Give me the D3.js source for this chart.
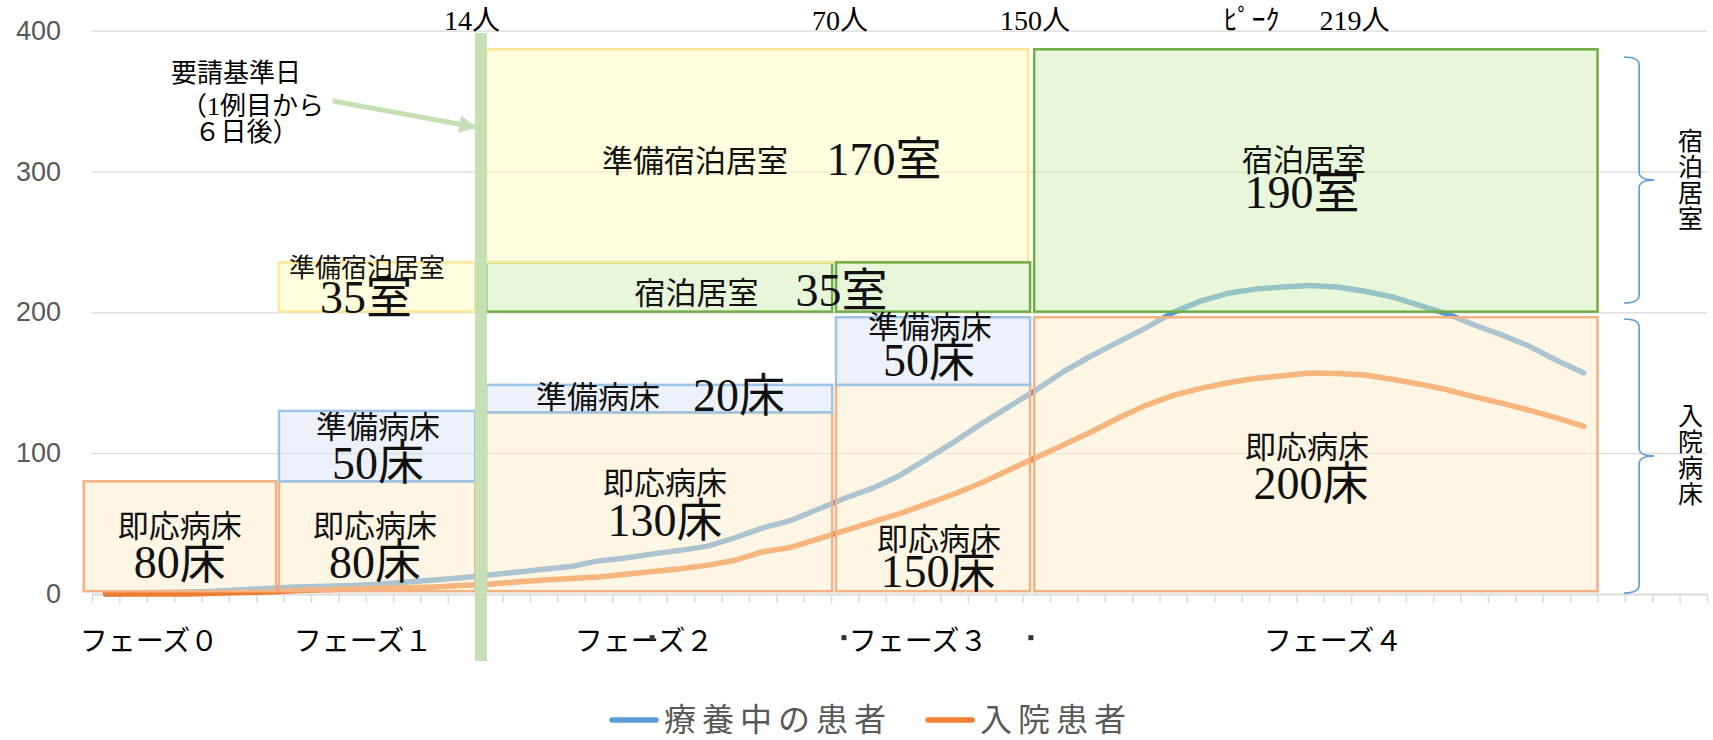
<!DOCTYPE html>
<html>
<head>
<meta charset="utf-8">
<script src="https://cdn.jsdelivr.net/npm/d3@7"></script>
<style>
body { margin: 0; background: #fff; }
svg { display: block; }
</style>
</head>
<body>
<div id="chart"></div>
<script>
let w = 1713, h = 740

// x axis: day slots, y axis: people / beds
let dayCount = 59
let yTicks = [0, 100, 200, 300, 400]

// 療養中の患者 (one value per day)
let ryoyo = [0, 0.5, 1, 1.5, 2, 3, 4, 5, 5.5, 6, 7, 8.5, 10, 11.5, 13.5, 15.5, 17.5, 19.5, 23.5, 25.5,
	28.5, 31, 34, 40, 47, 52, 60, 68, 75, 84, 96, 108, 121, 133, 145, 158, 169, 179, 189, 200,
	208, 213.5, 216.5, 218, 219, 218, 215, 211, 205, 199, 191, 184, 176, 166, 157]
// 入院患者
let nyuin = [0, 0, 0, 0, 0.5, 1, 1.5, 2.5, 3, 3.5, 4, 4.5, 5, 6, 7, 8.5, 10, 11, 12, 14,
	16, 18, 20.5, 24, 30, 33, 39, 45, 51, 57, 64, 71, 79, 88, 97, 106, 115, 125, 134, 141,
	146, 150, 153, 155, 157, 156.5, 155.5, 152.5, 149, 145, 140, 135.5, 130.5, 125, 119]

let seriesNames = ["療養中の患者", "入院患者"]
let seriesColors = ["#5B9BD5", "#ED7D31"]

// bed / room blocks per phase: day range and value range
let blockTypes = ["即応病床", "準備病床", "準備宿泊居室", "宿泊居室"]
let blocks = [
	{type: 0, d0: -0.3, d1: 6.72, lo: 2, hi: 80},
	{type: 0, d0: 6.83, d1: 14.0, lo: 2, hi: 80},
	{type: 1, d0: 6.83, d1: 14.0, lo: 80, hi: 130},
	{type: 2, d0: 6.83, d1: 14.0, lo: 200.5, hi: 235.5},
	{type: 0, d0: 14.4, d1: 27.04, lo: 2, hi: 129},
	{type: 1, d0: 14.4, d1: 27.04, lo: 129, hi: 148.5},
	{type: 3, d0: 14.4, d1: 27.04, lo: 200.5, hi: 235.5},
	{type: 2, d0: 14.4, d1: 34.2, lo: 235.5, hi: 386.8},
	{type: 0, d0: 27.18, d1: 34.27, lo: 2, hi: 148.5},
	{type: 1, d0: 27.18, d1: 34.27, lo: 148.5, hi: 196.5},
	{type: 3, d0: 27.18, d1: 34.27, lo: 200.5, hi: 235.5},
	{type: 0, d0: 34.42, d1: 55.0, lo: 2, hi: 196.5},
	{type: 3, d0: 34.42, d1: 55.0, lo: 200.5, hi: 386.8}
]

// texts inside the blocks (day, value of the text centre)
let blockTexts = [
	{t: "即応病床", d: 3.21, v: 47.6, k: "name"}, {t: "80床", d: 3.21, v: 22.7, k: "num"},
	{t: "即応病床", d: 10.34, v: 47.6, k: "name"}, {t: "80床", d: 10.34, v: 22.7, k: "num"},
	{t: "準備病床", d: 10.45, v: 117.9, k: "name"}, {t: "50床", d: 10.45, v: 93, k: "num"},
	{t: "準備宿泊居室", d: 10.05, v: 230.8, k: "small"}, {t: "35室", d: 10.01, v: 210.2, k: "num"},
	{t: "準備宿泊居室", d: 22.03, v: 306.8, k: "name"}, {t: "170室", d: 28.93, v: 308.2, k: "num"},
	{t: "宿泊居室", d: 22.08, v: 213.4, k: "name"}, {t: "35室", d: 27.38, v: 215.2, k: "num"},
	{t: "準備病床", d: 18.49, v: 139.5, k: "name"}, {t: "20床", d: 23.64, v: 141, k: "num"},
	{t: "即応病床", d: 20.93, v: 78.8, k: "name"}, {t: "130床", d: 20.93, v: 52.5, k: "num"},
	{t: "準備病床", d: 30.61, v: 189.5, k: "name"}, {t: "50床", d: 30.58, v: 165.7, k: "num"},
	{t: "即応病床", d: 30.94, v: 39, k: "name"}, {t: "150床", d: 30.91, v: 15.8, k: "num"},
	{t: "宿泊居室", d: 44.28, v: 307.5, k: "name"}, {t: "190室", d: 44.2, v: 285, k: "num"},
	{t: "即応病床", d: 44.39, v: 103.8, k: "name"}, {t: "200床", d: 44.53, v: 78.3, k: "num"}
]

// patient counts written above the chart
let topNotes = [
	{t: "14人", d: 13.88}, {t: "70人", d: 27.33}, {t: "150人", d: 34.45},
	{t: "ﾋﾟｰｸ", d: 42.36}, {t: "219人", d: 46.12}
]
let phaseNames = ["フェーズ０", "フェーズ１", "フェーズ２", "フェーズ３", "フェーズ４"]
let phaseCenters = [2.08, 9.9, 20.17, 30.18, 45.34]
let strayDots = [20.46, 27.47, 34.3]

let requestDay = 14.21
let requestNote = ["要請基準日", "（1例目から", "６日後）"]
let requestNoteDays = [5.26, 5.86, 5.64]
let requestNoteValues = [369.3, 346.5, 327.4]

let braceNames = ["宿泊居室", "入院病床"]
let braceRanges = [[381.3, 206.6], [195.3, 0.7]]

let margins = {left: 92, right: 1707, top: 30.7, bottom: 594}
let serif = "'Liberation Serif', 'Noto Sans CJK JP', serif"

let svg = d3.select("#chart").append("svg")
	.attr("width", w)
	.attr("height", h)

let x = d3.scaleLinear().domain([0, dayCount]).range([margins.left, margins.right])
let y = d3.scaleLinear().domain([0, 400]).range([margins.bottom, margins.top])

// gridlines + y labels
svg.append("g")
	.attr("transform", "translate(" + margins.left + ",0)")
	.call(d3.axisLeft(y).tickValues(yTicks).tickSize(-(margins.right - margins.left)).tickPadding(31))
	.call(g => g.select(".domain").remove())
	.call(g => g.selectAll("line").attr("stroke", "#D9D9D9").attr("stroke-width", 1.3))
	.call(g => g.selectAll("text").attr("fill", "#595959")
		.style("font-family", "'Liberation Sans', Arial, sans-serif").style("font-size", "27px"))

// x axis with a tick between every day
svg.append("g")
	.attr("transform", "translate(0," + margins.bottom + ")")
	.call(d3.axisBottom(x).tickValues(d3.range(0, dayCount + 1)).tickSize(9).tickSizeOuter(0).tickFormat(""))
	.call(g => g.selectAll("line, path").attr("stroke", "#D9D9D9").attr("stroke-width", 1.5))

// lines
let line = d3.line().x((d, i) => x(i + 0.5)).y(d => y(d))
;[ryoyo, nyuin].forEach((s, i) => {
	svg.append("path")
		.datum(s)
		.attr("d", line)
		.attr("fill", "none")
		.attr("stroke", seriesColors[i])
		.attr("stroke-width", 5.5)
		.attr("stroke-linejoin", "round")
		.attr("stroke-linecap", "round")
})

// blocks (half transparent, they wash out the lines below)
let blockFill = ["#FDEDC9", "#DBE5F5", "#FFFBBD", "#D1EDB5"]
let blockStroke = ["#F4B183", "#9DC3E6", "#FFE699", "#70AD47"]
svg.selectAll("rect.block")
	.data(blocks)
	.enter()
	.append("rect")
	.attr("class", "block")
	.attr("x", d => x(d.d0))
	.attr("y", d => y(d.hi))
	.attr("width", d => x(d.d1) - x(d.d0))
	.attr("height", d => y(d.lo) - y(d.hi))
	.attr("fill", d => blockFill[d.type])
	.attr("fill-opacity", 0.5)
	.attr("stroke", d => blockStroke[d.type])
	.attr("stroke-width", 2.5)

let textSize = {name: 31, small: 26, num: 46}
svg.selectAll("text.blk")
	.data(blockTexts)
	.enter()
	.append("text")
	.attr("class", "blk")
	.attr("x", d => x(d.d))
	.attr("y", d => y(d.v))
	.attr("text-anchor", "middle")
	.attr("dominant-baseline", "central")
	.style("font-family", serif)
	.style("font-size", d => textSize[d.k] + "px")
	.attr("fill", "#111")
	.text(d => d.t)

// request-day marker
svg.append("line")
	.attr("x1", x(requestDay)).attr("x2", x(requestDay))
	.attr("y1", y(398.4)).attr("y2", y(-47.6))
	.attr("stroke", "#C5E0B4")
	.attr("stroke-width", 12)

svg.append("defs").append("marker")
	.attr("id", "head")
	.attr("markerUnits", "userSpaceOnUse")
	.attr("markerWidth", 20).attr("markerHeight", 20)
	.attr("refX", 16).attr("refY", 9)
	.attr("orient", "auto")
	.append("path")
	.attr("d", "M0,0 L17,9 L0,18 Z")
	.attr("fill", "#C5E0B4")

svg.append("line")
	.attr("x1", x(8.8)).attr("y1", y(350.1))
	.attr("x2", x(14.0)).attr("y2", y(331.6))
	.attr("stroke", "#C5E0B4")
	.attr("stroke-width", 5)
	.attr("marker-end", "url(#head)")

svg.selectAll("text.req")
	.data(requestNote)
	.enter()
	.append("text")
	.attr("class", "req")
	.attr("x", (d, i) => x(requestNoteDays[i]))
	.attr("y", (d, i) => y(requestNoteValues[i]))
	.attr("text-anchor", "middle")
	.attr("dominant-baseline", "central")
	.style("font-family", serif)
	.style("font-size", "26px")
	.text(d => d)

// counts above the plot
svg.selectAll("text.top")
	.data(topNotes)
	.enter()
	.append("text")
	.attr("class", "top")
	.attr("x", d => x(d.d))
	.attr("y", y(407))
	.attr("text-anchor", "middle")
	.attr("dominant-baseline", "central")
	.style("font-family", serif)
	.style("font-size", "28px")
	.text(d => d.t)

// phase names under the axis
svg.selectAll("text.phase")
	.data(phaseNames)
	.enter()
	.append("text")
	.attr("class", "phase")
	.attr("x", (d, i) => x(phaseCenters[i]))
	.attr("y", y(-33.4))
	.attr("text-anchor", "middle")
	.attr("dominant-baseline", "central")
	.style("font-family", serif)
	.style("font-size", "28px")
	.text(d => d)

svg.selectAll("rect.dot")
	.data(strayDots)
	.enter()
	.append("rect")
	.attr("x", d => x(d) - 2.5)
	.attr("y", y(-31) - 2.5)
	.attr("width", 5).attr("height", 5)
	.attr("fill", "#333")

// braces on the right
let braceX = [55.97, 56.52, 57.07]
braceRanges.forEach((r, i) => {
	let x0 = x(braceX[0]), sp = x(braceX[1]), tip = x(braceX[2])
	let top = y(r[0]), bot = y(r[1]), mid = (top + bot) / 2, c = 8
	svg.append("path")
		.attr("d", "M" + x0 + "," + top + " Q" + sp + "," + top + " " + sp + "," + (top + c) +
			" L" + sp + "," + (mid - c) + " Q" + sp + "," + mid + " " + tip + "," + mid +
			" Q" + sp + "," + mid + " " + sp + "," + (mid + c) +
			" L" + sp + "," + (bot - c) + " Q" + sp + "," + bot + " " + x0 + "," + bot)
		.attr("fill", "none")
		.attr("stroke", "#5B9BD5")
		.attr("stroke-width", 1.6)

	let t = svg.append("text")
		.attr("text-anchor", "middle")
		.style("font-family", serif)
		.style("font-size", "25px")
	let chars = braceNames[i].split(""), pitch = 26
	chars.forEach((ch, j) => {
		t.append("tspan")
			.attr("x", x(58.4))
			.attr("y", mid + (j - (chars.length - 1) / 2) * pitch)
			.attr("dominant-baseline", "central")
			.text(ch)
	})
})

// legend
let legend = svg.append("g").attr("transform", "translate(612,717)")
let lx = 0
seriesNames.forEach((name, i) => {
	legend.append("line")
		.attr("x1", lx).attr("x2", lx + 44)
		.attr("y1", 3).attr("y2", 3)
		.attr("stroke", seriesColors[i])
		.attr("stroke-width", 5.5)
		.attr("stroke-linecap", "round")
	let t = legend.append("text")
		.attr("x", lx + 52)
		.attr("dominant-baseline", "central")
		.attr("fill", "#595959")
		.style("font-family", "'Noto Sans CJK JP', sans-serif")
		.style("font-size", "32px")
		.style("letter-spacing", "6px")
		.text(name)
	lx += 52 + t.node().getComputedTextLength() + 36
})
</script>
</body>
</html>
